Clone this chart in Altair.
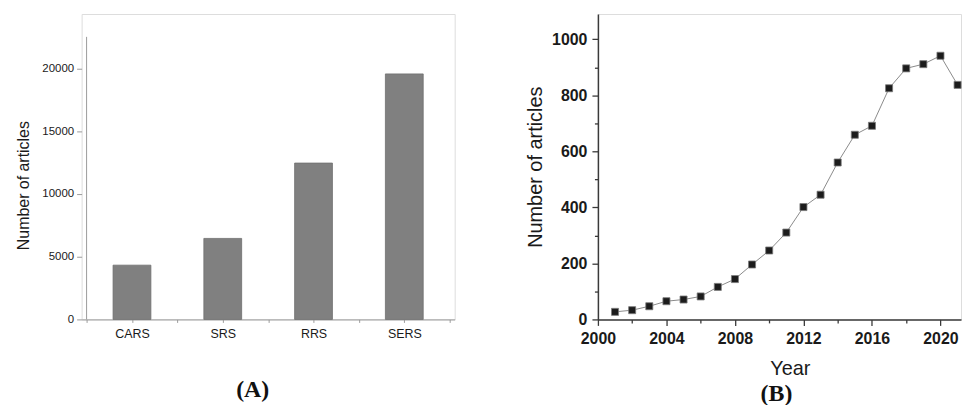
import json
import altair as alt
import pandas as pd

# ---- data -------------------------------------------------------------
techniques = ["CARS", "SRS", "RRS", "SERS"]
technique_counts = [4320, 6450, 12450, 19550]

years = [2001, 2002, 2003, 2004, 2005, 2006, 2007, 2008, 2009, 2010, 2011,
         2012, 2013, 2014, 2015, 2016, 2017, 2018, 2019, 2020, 2021]
year_counts = [27, 33, 47, 65, 71, 82, 116, 144, 196, 246, 310,
               401, 445, 560, 659, 691, 825, 896, 911, 941, 837]

left_y_ticks = [0, 2500, 5000, 7500, 10000, 12500, 15000, 17500, 20000, 22500]
right_x_ticks = list(range(2000, 2021, 2))
right_y_ticks = list(range(0, 1001, 100))

# ---- left panel (A) ---------------------------------------------------
bar_df = pd.DataFrame({
    "technique": techniques,
    "pos": [i + 0.5 for i in range(len(techniques))],
    "count": technique_counts,
})
slot_labels = []
for t in techniques:
    slot_labels += ["", t]
slot_labels.append("")
label_expr = json.dumps(slot_labels) + "[round(datum.value*2)]"

left_axis_color = "#9a9a9a"
sans = "Liberation Sans"
serif = "Liberation Serif"

left_x_scale = alt.Scale(domain=[0, len(techniques)], nice=False, zero=False)
# the plot area is as tall as the right one; the axis line stops at 22500
left_y_scale = alt.Scale(domain=[0, 24320], nice=False)

bars = alt.Chart(bar_df).mark_bar(
    size=38, color="#808080", stroke="#6e6e6e", strokeWidth=0.8
).encode(
    x=alt.X(
        "pos:Q",
        scale=left_x_scale,
        axis=alt.Axis(
            values=[i / 2 for i in range(2 * len(techniques) + 1)],
            labelExpr=label_expr,
            labelFlush=False,
            grid=False,
            tickSize=3,
            tickColor=left_axis_color,
            domainColor=left_axis_color,
            labelFont=sans,
            labelFontSize=12.5,
            labelColor="#1a1a1a",
            labelPadding=5,
            title="(A)",
            titleFont=serif,
            titleFontSize=24,
            titleFontWeight="bold",
            titleColor="#111111",
            titleX=171.5,
            titleY=58,
            titleAlign="center",
        ),
    ),
    y=alt.Y(
        "count:Q",
        scale=left_y_scale,
        axis=alt.Axis(
            values=left_y_ticks,
            labelExpr="datum.value % 5000 === 0 ? datum.label : ''",
            format="d",
            grid=False,
            domain=False,
            tickSize={"condition": {"test": "datum.value % 5000 === 0", "value": 5}, "value": 3},
            tickColor=left_axis_color,
            labelFont=sans,
            labelFontSize=11.5,
            labelColor="#1a1a1a",
            labelPadding=3,
            title="Number of articles",
            titleFont=sans,
            titleFontSize=16,
            titleFontWeight="normal",
            titleColor="#1a1a1a",
            titlePadding=10,
            titleY=172,
        ),
    ),
)

axis_df = pd.DataFrame({"x": [0], "y0": [left_y_ticks[0]], "y1": [left_y_ticks[-1]]})
y_axis_line = alt.Chart(axis_df).mark_rule(color=left_axis_color, strokeWidth=1).encode(
    x=alt.X("x:Q", scale=left_x_scale),
    y=alt.Y("y0:Q", scale=left_y_scale),
    y2="y1:Q",
)

left = (bars + y_axis_line).properties(width=375, height=307)

# ---- right panel (B) --------------------------------------------------
line_df = pd.DataFrame({"year": years, "count": year_counts})
right_axis_color = "#3a3a3a"

x_enc = alt.X(
    "year:Q",
    scale=alt.Scale(domain=[2000, 2021.2], nice=False, zero=False),
    axis=alt.Axis(
        values=right_x_ticks,
        format="d",
        labelExpr="datum.value % 4 === 0 ? datum.label : ''",
        labelFlush=False,
        grid=False,
        tickSize={"condition": {"test": "datum.value % 4 === 0", "value": 6}, "value": 3.5},
        tickColor=right_axis_color,
        tickWidth=1.3,
        domainColor=right_axis_color,
        domainWidth=1.5,
        labelFont=sans,
        labelFontSize=16,
        labelFontWeight="bold",
        labelColor="#1a1a1a",
        labelPadding=5,
        title="Year",
        titleFont=sans,
        titleFontSize=20,
        titleFontWeight="normal",
        titleColor="#1a1a1a",
        titlePadding=12,
        titleX=193,
    ),
)
y_enc = alt.Y(
    "count:Q",
    scale=alt.Scale(domain=[0, 1090], nice=False),
    axis=alt.Axis(
        values=right_y_ticks,
        format="d",
        labelExpr="datum.value % 200 === 0 ? datum.label : ''",
        grid=False,
        tickSize={"condition": {"test": "datum.value % 200 === 0", "value": 6}, "value": 3.5},
        tickColor=right_axis_color,
        tickWidth=1.3,
        domainColor=right_axis_color,
        domainWidth=1.5,
        labelFont=sans,
        labelFontSize=16,
        labelFontWeight="bold",
        labelColor="#1a1a1a",
        labelPadding=5,
        title="Number of articles",
        titleFont=sans,
        titleFontSize=20,
        titleFontWeight="normal",
        titleColor="#1a1a1a",
        titlePadding=6,
    ),
)

base = alt.Chart(line_df).encode(x=x_enc, y=y_enc)
line = base.mark_line(color="#8a8a8a", strokeWidth=1)
pts = base.mark_point(
    shape="square", size=50, filled=True, fill="#1c1c1c",
    stroke="#7a7a7a", strokeWidth=0.8, opacity=1
)

right = (line + pts).properties(
    width=365,
    height=307,
    title=alt.TitleParams(
        "(B)", orient="bottom", font=serif, fontSize=24, fontWeight="bold",
        color="#111111", offset=4, dx=-3,
    ),
)

chart = alt.hconcat(left, right, spacing=69).properties(
    padding={"left": 7, "top": 4, "right": 0, "bottom": 0}
).configure_view(stroke=None).configure(background="white")

chart.save("out.html", embed_options={"renderer": "svg", "actions": False})
